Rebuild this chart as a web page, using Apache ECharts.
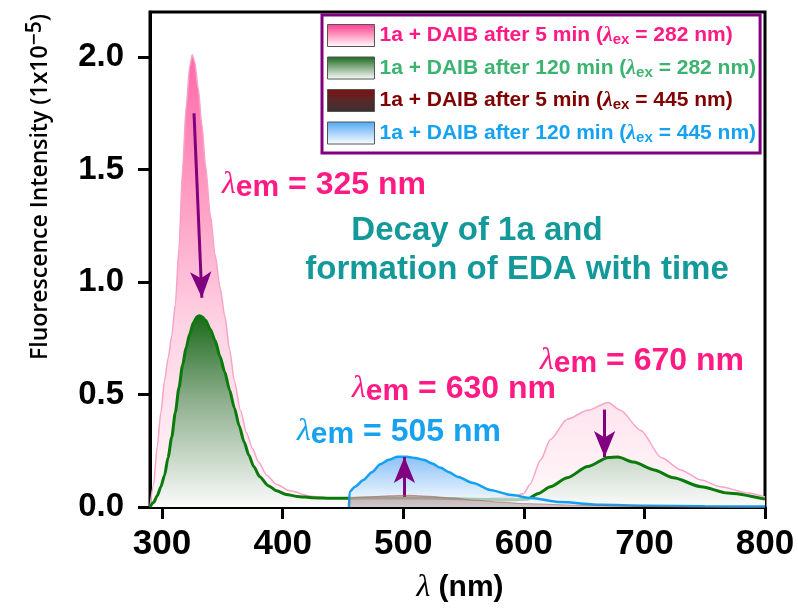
<!DOCTYPE html>
<html>
<head>
<meta charset="utf-8">
<script src="https://cdn.jsdelivr.net/npm/echarts@6/dist/echarts.min.js"></script>
<style>html,body{margin:0;padding:0;background:#fff;}#c{width:798px;height:609px;}</style>
</head>
<body>
<div id="c"></div>
<script>
// ---------- data ----------
const pinkX = [290, 293, 296, 299, 302, 305, 308, 311, 314, 317, 320, 323, 325, 327, 330, 333, 336, 340, 344, 348, 352, 356, 360, 365, 370, 375, 380, 387, 395, 406, 423, 440, 455, 480, 520, 560, 590, 600, 605, 614, 622, 636, 653, 670, 680, 697, 714, 730, 747, 763, 786, 800];
const pinkY = [0.0, 0.1, 0.27, 0.42, 0.56, 0.66, 0.76, 0.9, 1.15, 1.5, 1.78, 1.96, 2.01, 1.98, 1.86, 1.7, 1.52, 1.3, 1.12, 0.98, 0.85, 0.7, 0.56, 0.43, 0.33, 0.26, 0.2, 0.14, 0.1, 0.072, 0.048, 0.04, 0.036, 0.03, 0.03, 0.035, 0.045, 0.06, 0.1, 0.21, 0.3, 0.39, 0.43, 0.465, 0.43, 0.34, 0.22, 0.165, 0.12, 0.09, 0.062, 0.045];

const greenX = [290, 293, 296, 299, 302, 305, 308, 311, 314, 317, 320, 323, 326, 329, 331, 333, 336, 340, 344, 348, 352, 356, 360, 364, 368, 372, 376, 381, 388, 395, 403, 412, 425, 440, 455, 480, 520, 560, 590, 603, 612, 622, 636, 653, 670, 678, 691, 708, 724, 747, 769, 800];
const greenY = [0.0, 0.02, 0.05, 0.09, 0.14, 0.22, 0.31, 0.42, 0.53, 0.63, 0.71, 0.77, 0.82, 0.846, 0.85, 0.846, 0.83, 0.79, 0.74, 0.67, 0.6, 0.52, 0.44, 0.36, 0.29, 0.23, 0.18, 0.135, 0.095, 0.072, 0.056, 0.047, 0.041, 0.039, 0.039, 0.04, 0.04, 0.035, 0.032, 0.035, 0.06, 0.09, 0.13, 0.18, 0.22, 0.222, 0.2, 0.165, 0.13, 0.09, 0.062, 0.035];

const brownX = [455, 470, 490, 505, 520, 540, 560, 580, 600, 650, 700, 750, 800];
const brownY = [0.04, 0.045, 0.05, 0.052, 0.048, 0.04, 0.03, 0.022, 0.015, 0.007, 0.003, 0.001, 0.0];

const blueX = [455, 455.5, 460, 467, 474, 481, 488, 495, 503, 510, 517, 524, 531, 538, 545, 558, 572, 589, 606, 630, 664, 700, 750, 800];
const blueY = [0.0, 0.067, 0.09, 0.12, 0.155, 0.19, 0.21, 0.223, 0.223, 0.218, 0.21, 0.193, 0.174, 0.154, 0.134, 0.107, 0.076, 0.054, 0.04, 0.022, 0.01, 0.006, 0.003, 0.002];

const seriesNames = [
  '1a + DAIB after 5 min (λex = 282 nm)',
  '1a + DAIB after 120 min (λex = 282 nm)',
  '1a + DAIB after 5 min (λex = 445 nm)',
  '1a + DAIB after 120 min (λex = 445 nm)'
];
const legendPre = ['1a + DAIB after 5 min (', '1a + DAIB after 120 min (', '1a + DAIB after 5 min (', '1a + DAIB after 120 min ('];
const legendPost = [' = 282 nm)', ' = 282 nm)', ' = 445 nm)', ' = 445 nm)'];

const xTicks = [300, 400, 500, 600, 700, 800];
const yTicks = [0.0, 0.5, 1.0, 1.5, 2.0];

// arrows: start and end in data units
const arrowFromX = [326.5, 501, 667];
const arrowFromY = [1.75, 0.045, 0.433];
const arrowToX = [333, 501, 667];
const arrowToY = [0.93, 0.222, 0.222];

// ---------- helpers ----------
const zip = (xs, ys) => xs.map((x, i) => [x, ys[i]]);
const grad = (stops) => new echarts.graphic.LinearGradient(0, 0, 0, 1, stops.map((c, i) => typeof c === 'string' ? {offset: i / (stops.length - 1), color: c} : c));

const SANS = '"Liberation Sans", Arial, sans-serif';
const SERIF = '"Liberation Serif", "DejaVu Serif", serif';
const cPink = '#ff1a84', cGreenTxt = '#3cb371', cBrownTxt = '#800000', cBlue = '#17a2f0', cTeal = '#13999a', cPurple = '#800080';
const legendColors = [cPink, cGreenTxt, cBrownTxt, cBlue];
const keys = ['p', 'g', 'r', 'b'];

const rich = {};
keys.forEach((k, i) => {
  rich[k] = {color: legendColors[i], fontFamily: SANS, fontWeight: 'bold', fontSize: 21, lineHeight: 24, verticalAlign: 'middle'};
  rich[k + 'l'] = {color: legendColors[i], fontFamily: SERIF, fontStyle: 'italic', fontWeight: 'bold', fontSize: 22, lineHeight: 24, verticalAlign: 'middle'};
  rich[k + 's'] = {color: legendColors[i], fontFamily: SANS, fontWeight: 'bold', fontSize: 15, lineHeight: 14, verticalAlign: 'bottom'};
});

function annot(x, y, color, rest) {
  return {
    type: 'text', x: x, y: y, z: 100,
    style: {
      text: '{l|λ}{s|em}{t|' + rest + '}',
      align: 'left', verticalAlign: 'middle',
      rich: {
        l: {fill: color, fontFamily: SERIF, fontStyle: 'italic', fontSize: 32, lineHeight: 36, verticalAlign: 'middle'},
        s: {fill: color, fontFamily: SANS, fontWeight: 'bold', fontSize: 30, lineHeight: 18, verticalAlign: 'bottom'},
        t: {fill: color, fontFamily: SANS, fontWeight: 'bold', fontSize: 32, lineHeight: 36, verticalAlign: 'middle'}
      }
    }
  };
}

const chart = echarts.init(document.getElementById('c'), null, {renderer: 'canvas'});
chart.setOption({
  animation: false,
  backgroundColor: '#fff',
  grid: {left: 150, right: 33, top: 12, bottom: 102, show: true, borderColor: '#000', borderWidth: 3, backgroundColor: 'transparent'},
  xAxis: {
    type: 'value', min: 290, max: 800,
    axisLine: {show: true, lineStyle: {color: '#000', width: 3}},
    axisTick: {show: true, length: 12, lineStyle: {color: '#000', width: 3}, customValues: xTicks},
    axisLabel: {customValues: xTicks, margin: 20, color: '#000', fontFamily: SANS, fontWeight: 'bold', fontSize: 35},
    splitLine: {show: false}
  },
  yAxis: {
    type: 'value', min: 0, max: 2.2,
    axisLine: {show: true, lineStyle: {color: '#000', width: 3}},
    axisTick: {show: true, length: 12, lineStyle: {color: '#000', width: 3}, customValues: yTicks},
    axisLabel: {customValues: yTicks, margin: 26, color: '#000', fontFamily: SANS, fontWeight: 'bold', fontSize: 33, formatter: v => v.toFixed(1)},
    splitLine: {show: false}
  },
  legend: {
    orient: 'vertical', left: 322, top: 15,
    padding: [9, 4, 8, 5],
    borderColor: cPurple, borderWidth: 3, backgroundColor: '#fff',
    itemWidth: 47, itemHeight: 22, itemGap: 9,
    selectedMode: false,
    data: seriesNames.map((n, i) => ({
      name: n, icon: 'rect',
      itemStyle: {
        color: [
          grad(['#ff3d8e', '#ff9cc2', '#ffffff']),
          grad(['#17661a', '#8fb18f', '#ffffff']),
          grad(['#7d1212', '#5a2828', '#3a3030']),
          grad(['#4fa8f5', '#a8d2fa', '#ffffff'])
        ][i],
        borderColor: '#555', borderWidth: 1
      }
    })),
    formatter: name => {
      const i = seriesNames.indexOf(name); const k = keys[i];
      return '{' + k + '|' + legendPre[i] + '}{' + k + 'l|λ}{' + k + 's|ex}{' + k + '|' + legendPost[i] + '}';
    },
    textStyle: {rich: rich}
  },
  series: [
    {
      name: seriesNames[0], type: 'line', data: zip(pinkX, pinkY), showSymbol: false, smooth: 0.25, smoothMonotone: 'x',
      lineStyle: {color: '#f7a3c6', width: 1.5},
      itemStyle: {color: '#ff3d8e'},
      areaStyle: {color: grad([{offset: 0, color: '#ff2a85'}, {offset: 0.35, color: '#ff7cae'}, {offset: 0.6, color: '#ffc0d8'}, {offset: 1, color: '#fff7fa'}])},
      z: 2
    },
    {
      name: seriesNames[1], type: 'line', data: zip(greenX, greenY), showSymbol: false, smooth: 0.25, smoothMonotone: 'x',
      lineStyle: {color: '#0a7a0a', width: 3},
      itemStyle: {color: '#0a7a0a'},
      areaStyle: {color: grad([{offset: 0, color: '#1c6a1c'}, {offset: 0.45, color: '#8fb08f'}, {offset: 1, color: '#fbfbfb'}]), opacity: 1},
      z: 3
    },
    {
      name: seriesNames[3], type: 'line', data: zip(blueX, blueY), showSymbol: false, smooth: 0.25, smoothMonotone: 'x',
      lineStyle: {color: '#14a0f2', width: 2.5},
      itemStyle: {color: '#14a0f2'},
      areaStyle: {color: grad([{offset: 0, color: '#5aa7f2'}, {offset: 1, color: '#ffffff'}])},
      z: 4
    },
    {
      name: seriesNames[2], type: 'line', data: zip(brownX, brownY), showSymbol: false, smooth: 0.25, smoothMonotone: 'x',
      lineStyle: {color: 'rgba(170,90,90,0.6)', width: 1},
      itemStyle: {color: '#8b1a1a'},
      areaStyle: {color: grad([{offset: 0, color: 'rgba(170,70,70,0.55)'}, {offset: 1, color: 'rgba(110,105,105,0.5)'}])},
      z: 5,
      markLine: {
        silent: true, symbol: ['none', 'arrow'], symbolSize: [16, 26], precision: 3,
        lineStyle: {color: cPurple, width: 3, type: 'solid'},
        label: {show: false},
        data: arrowFromX.map((x, i) => [{coord: [x, arrowFromY[i]]}, {coord: [arrowToX[i], arrowToY[i]]}])
      }
    }
  ],
  graphic: [
    annot(222, 185, cPink, ' = 325 nm'),
    annot(540, 361, cPink, ' = 670 nm'),
    annot(352, 389, cPink, ' = 630 nm'),
    annot(297, 432, cBlue, ' = 505 nm'),
    {type: 'text', x: 477, y: 231, z: 100, style: {text: 'Decay of 1a and', fill: cTeal, font: 'bold 33px ' + SANS, align: 'center', verticalAlign: 'middle'}},
    {type: 'text', x: 517, y: 270, z: 100, style: {text: 'formation of EDA with time', fill: cTeal, font: 'bold 33px ' + SANS, align: 'center', verticalAlign: 'middle'}},
    {
      type: 'text', x: 40, y: 187, rotation: Math.PI / 2, z: 100,
      style: {
        text: '{a|Fluorescence Intensity (1x10}{b|−5}{a|)}', align: 'center', verticalAlign: 'middle',
        rich: {
          a: {fill: '#000', fontFamily: '"Open Sans", sans-serif', fontWeight: 600, fontSize: 23, lineHeight: 30, verticalAlign: 'middle'},
          b: {fill: '#000', fontFamily: '"Open Sans", sans-serif', fontWeight: 600, fontSize: 21, lineHeight: 22, verticalAlign: 'top'}
        }
      }
    },
    {
      type: 'text', x: 460, y: 588, z: 100,
      style: {
        text: '{l|λ}{t| (nm)}', align: 'center', verticalAlign: 'middle',
        rich: {
          l: {fill: '#000', fontFamily: SERIF, fontStyle: 'italic', fontSize: 32, lineHeight: 36},
          t: {fill: '#000', fontFamily: SANS, fontWeight: 'bold', fontSize: 30, lineHeight: 36}
        }
      }
    }
  ]
});
</script>
</body>
</html>
